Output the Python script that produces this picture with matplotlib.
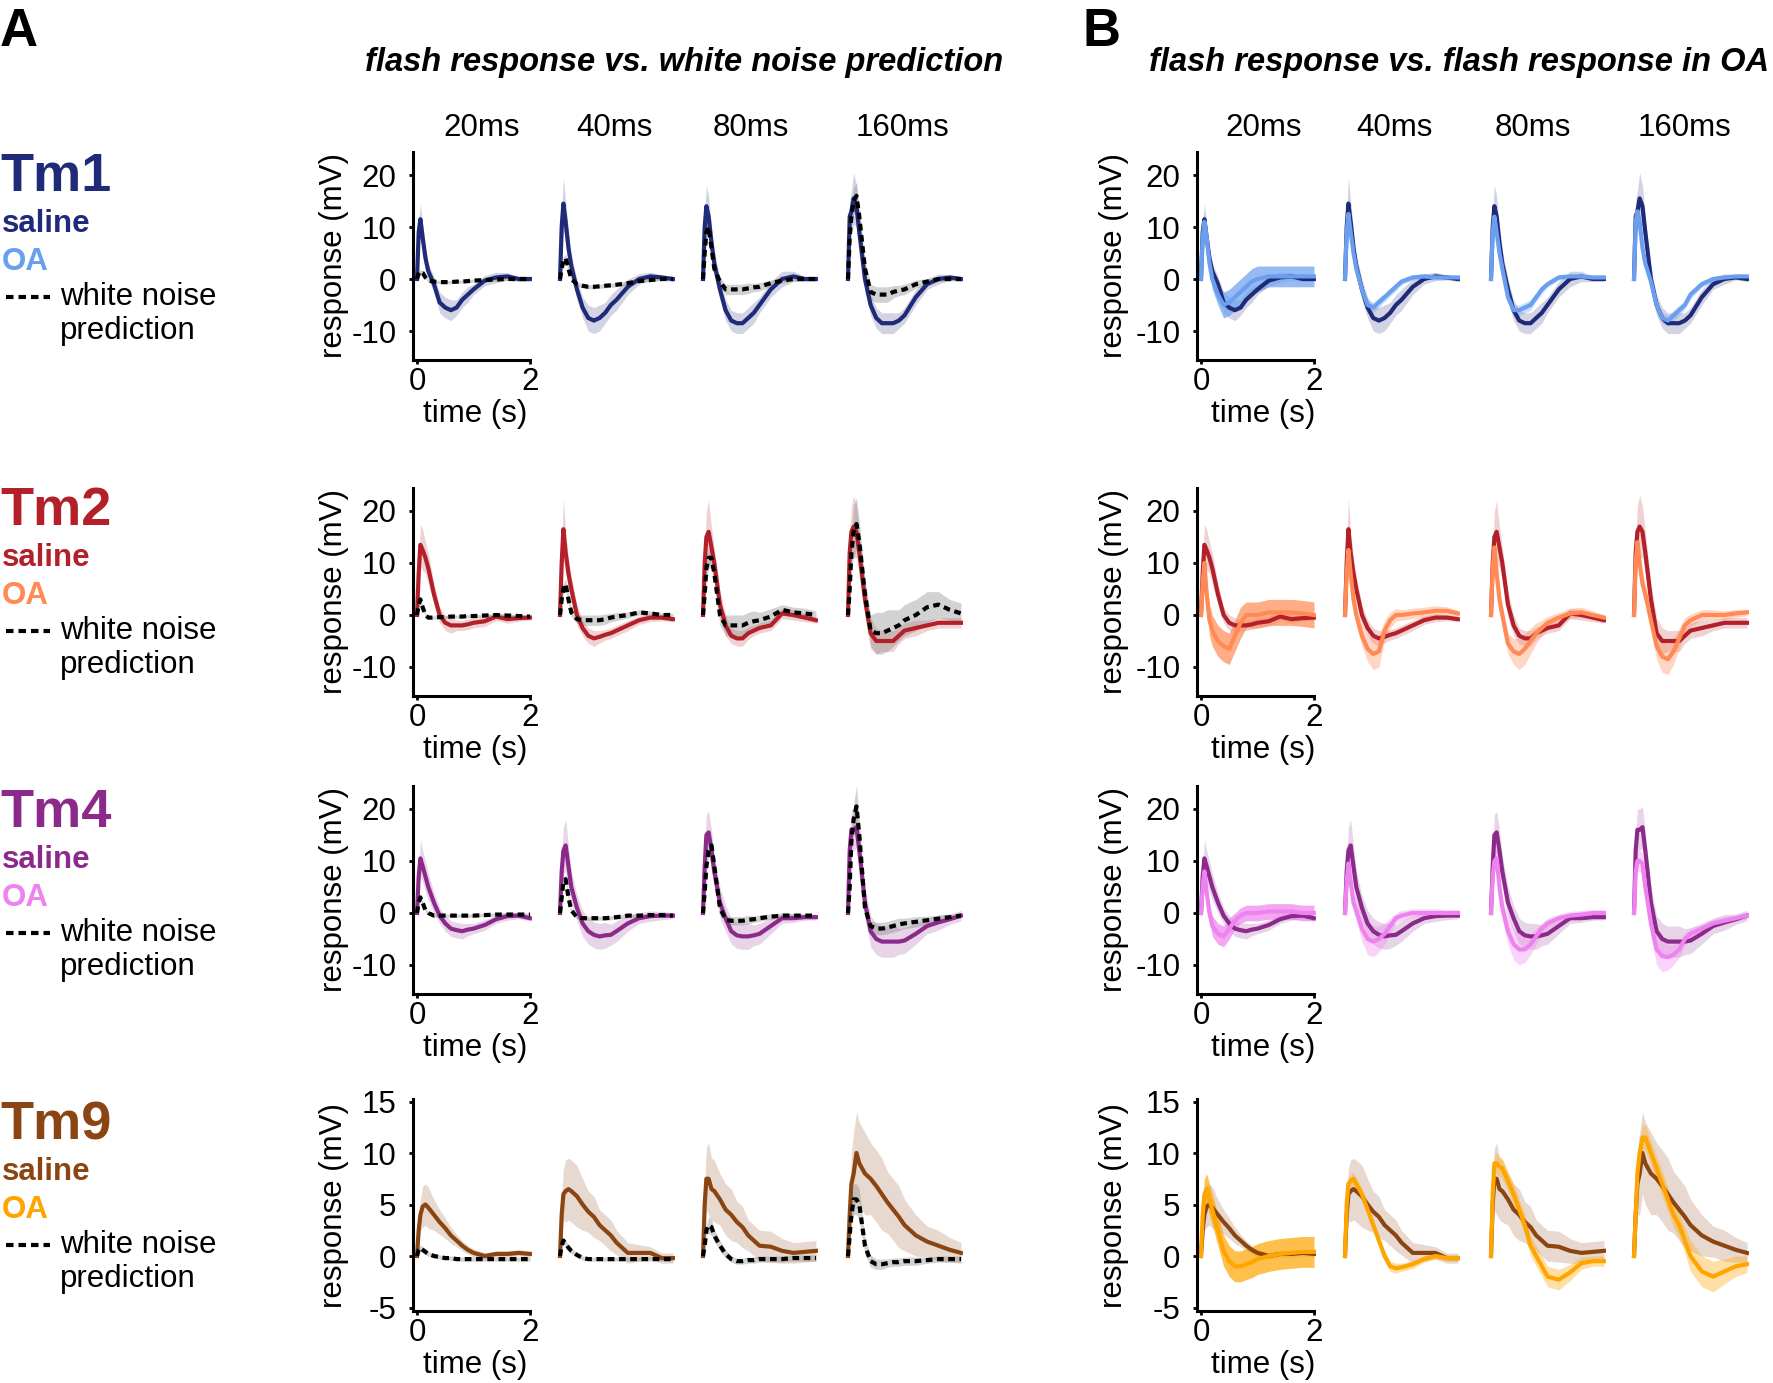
import matplotlib.pyplot as plt
from matplotlib.lines import Line2D

plt.rcParams['font.family'] = ['Liberation Sans', 'DejaVu Sans']
plt.rcParams['axes.unicode_minus'] = False

# sample times (s) shared by all traces
t_pts = [0, 0.03, 0.06, 0.1, 0.15, 0.2, 0.3, 0.4, 0.5, 0.6, 0.7, 0.8, 0.9, 1.0, 1.2, 1.4, 1.6, 1.8, 2.0]
durations = ['20ms', '40ms', '80ms', '160ms']
cells = ['Tm1', 'Tm2', 'Tm4', 'Tm9']

# ---- Tm1 ----
tm1_saline = [
    [0, 9, 11.5, 8, 4, 1.5, -1, -4.5, -5.5, -6, -5.5, -4, -3, -2, -0.3, 0.3, 0.5, 0, 0],
    [0, 10, 14.5, 11, 6, 2.5, -2, -5.5, -7.5, -8, -7.5, -6.5, -5, -4, -1.5, 0, 0.5, 0.3, 0],
    [0, 10, 14, 12, 7, 3, -2, -6, -8, -8.5, -8.5, -7.5, -6.5, -5, -2, 0, 0.5, 0, 0],
    [0, 12, 13, 15.5, 14, 9, 0, -5, -7.5, -8.5, -8.5, -8.5, -8, -7, -3.5, -1, 0, 0.3, 0],
]
tm1_saline_sem = [
    [0, 2, 3, 2.5, 2, 1.5, 1.5, 2, 2, 2, 1.5, 1.5, 1.5, 1, 1, 1, 0.7, 0.5, 0.5],
    [0, 3, 5, 4, 3, 2, 2, 2, 2.5, 2.5, 2.5, 2, 2, 2, 1.5, 1, 0.8, 0.5, 0.5],
    [0, 3, 4, 4, 3, 2.5, 2, 2, 2, 2, 2, 2, 2, 1.5, 1.5, 1.5, 1, 0.5, 0.5],
    [0, 3, 4, 5, 4, 3, 2, 2, 2, 2, 2, 2, 1.5, 1.5, 1.5, 1, 1, 0.5, 0.5],
]
tm1_pred = [
    [0, 1, 1.5, 1.2, 0.3, -0.3, -0.5, -0.6, -0.6, -0.6, -0.5, -0.5, -0.4, -0.3, -0.2, -0.1, 0, 0, 0],
    [0, 2, 3.5, 4, 2, 0, -1, -1.3, -1.5, -1.5, -1.4, -1.3, -1.2, -1.1, -0.8, -0.4, -0.2, 0, 0],
    [0, 5, 9, 10, 6, 2, -0.5, -2, -2, -2, -2, -1.8, -1.6, -1.5, -0.8, -0.3, 0, 0, 0],
    [0, 8, 12, 15, 16, 12, 2, -2.5, -3, -3, -3, -2.5, -2.2, -2, -1, -0.5, 0, 0, 0],
]
tm1_pred_sem = [
    [0, 0.3, 0.4, 0.4, 0.3, 0.3, 0.3, 0.3, 0.3, 0.3, 0.3, 0.3, 0.3, 0.3, 0.3, 0.3, 0.3, 0.3, 0.3],
    [0, 0.5, 0.8, 0.8, 0.5, 0.4, 0.4, 0.4, 0.4, 0.4, 0.4, 0.4, 0.4, 0.4, 0.4, 0.3, 0.3, 0.3, 0.3],
    [0, 1, 1.5, 1.5, 1, 0.8, 0.8, 1, 1, 1, 1, 1, 0.8, 0.8, 0.6, 0.5, 0.4, 0.3, 0.3],
    [0, 1.5, 2, 2.5, 2.5, 2, 1.5, 1.5, 1.5, 1.5, 1.5, 1.2, 1, 1, 0.8, 0.6, 0.5, 0.4, 0.3],
]
tm1_oa = [
    [0, 8, 11, 8, 3, 0, -3, -5, -4.5, -3.5, -2.5, -1.5, -0.5, 0, 0.5, 0.5, 0.5, 0.5, 0.5],
    [0, 9, 12.5, 9, 5, 2, -2, -5, -5.5, -4.5, -3.5, -2.5, -1.5, -0.5, 0.3, 0.5, 0.3, 0.3, 0.3],
    [0, 9, 12, 9, 5, 2, -3.5, -6, -6, -5.5, -5, -3.5, -2, -1, 0.3, 0.5, 0.5, 0.3, 0.3],
    [0, 11, 13, 11, 6, 3, -0.5, -5, -7.5, -8, -7, -6, -5, -3, -1, 0, 0.3, 0.5, 0.5],
]
tm1_oa_sem = [
    [0, 1, 1.5, 1.5, 1.5, 2, 2, 2.5, 2.5, 2.5, 2.5, 2.5, 2.5, 2.5, 2, 2, 2, 2, 2],
    [0, 1, 1.5, 1.2, 1, 1, 1, 1, 1, 1, 0.8, 0.8, 0.8, 0.6, 0.5, 0.5, 0.5, 0.4, 0.4],
    [0, 1, 1.5, 1.2, 1, 1, 1, 1, 1, 1, 1, 0.8, 0.8, 0.6, 0.5, 0.5, 0.5, 0.4, 0.4],
    [0, 1.5, 2, 1.5, 1, 1, 1, 1, 1, 1, 1, 1, 0.8, 0.8, 0.6, 0.5, 0.5, 0.4, 0.4],
]

# ---- Tm2 ----
tm2_saline = [
    [0, 8, 13.5, 12.5, 11, 9, 4, 0, -1.5, -2, -2, -2, -1.8, -1.5, -1.2, -0.3, -0.8, -0.6, -0.5],
    [0, 10, 16.5, 12, 8, 5, 0, -2.5, -4, -4.5, -4.2, -3.8, -3.5, -3, -2, -1, -0.5, -0.5, -0.8],
    [0, 10, 15, 16, 13, 10, 2, -2, -4, -4.5, -4.5, -3.5, -3, -2.5, -2, 0.3, 0, -0.5, -1],
    [0, 12, 16, 17, 16, 12, 3, -3.5, -5, -5, -5, -5, -4, -3, -2.5, -2, -1.5, -1.5, -1.5],
]
tm2_saline_sem = [
    [0, 2, 4, 4, 3, 3, 2, 1.5, 1.5, 1.5, 1, 1, 1, 1, 1, 0.8, 0.8, 0.6, 0.5],
    [0, 3, 6, 4, 3, 2.5, 2, 1.5, 1.5, 1.5, 1.2, 1, 1, 1, 1, 0.8, 0.8, 0.6, 0.5],
    [0, 3, 5, 6, 4, 3, 2.5, 2, 1.5, 1.5, 1.5, 1.2, 1, 1, 1, 1, 1, 0.8, 0.6],
    [0, 3, 5, 6, 5, 4, 3, 3, 2.5, 2, 2, 2, 1.5, 1.5, 1.5, 1, 1, 1, 1],
]
tm2_pred = [
    [0, 2, 3, 1.5, 0, -0.5, -0.5, -0.4, -0.4, -0.3, -0.3, -0.3, -0.2, -0.2, -0.1, 0, -0.1, -0.2, -0.3],
    [0, 3, 5, 6, 3, 0.5, -0.8, -1, -1, -1, -1, -0.8, -0.5, -0.3, 0, 0.5, 0.3, 0, 0],
    [0, 4, 9, 11, 11, 8, 0, -2, -2, -2, -2, -1.5, -1.2, -1, -0.3, 1, 0.5, 0.3, 0],
    [0, 5, 12, 16, 17.5, 14, 4, -3, -3.5, -3.5, -3, -2.5, -2, -1, 0, 1.5, 2, 1, 0.3],
]
tm2_pred_sem = [
    [0, 0.3, 0.5, 0.5, 0.3, 0.3, 0.3, 0.3, 0.3, 0.3, 0.3, 0.3, 0.3, 0.3, 0.3, 0.3, 0.3, 0.3, 0.3],
    [0, 0.5, 1, 1, 1, 0.8, 0.8, 1, 1, 1, 1, 1, 0.8, 0.8, 0.6, 0.5, 0.5, 0.4, 0.3],
    [0, 1, 2, 2, 2, 2, 2, 2, 2, 2, 2, 2, 2, 1.5, 1.5, 1, 1, 1, 0.8],
    [0, 1, 3, 5, 5, 4, 3, 3, 4, 4, 4, 3.5, 3, 3, 3, 3, 2.5, 2, 2],
]
tm2_oa = [
    [0, 6, 10, 4, -1, -3, -5, -6, -6.5, -4, -1.5, 0, 0, 0, 0.5, 0.5, 0.5, 0.3, 0],
    [0, 8, 12.5, 8, 3, 0, -4, -6.5, -7.5, -7, -3, -1, 0, 0, 0.3, 0.5, 0.8, 0.8, 0.3],
    [0, 9, 13, 8, 3, 0, -5.5, -7, -7.5, -6.5, -5, -3.5, -2.5, -1.5, -0.5, 0.3, 0.5, 0, -0.5],
    [0, 10, 14, 10, 6, 4, -1, -6, -8, -8.5, -7, -4.5, -2, -1, 0, 0, 0, 0.3, 0.5],
]
tm2_oa_sem = [
    [0, 1, 2, 2.5, 3, 3, 3, 3, 3, 3, 3, 2.5, 2.5, 2.5, 2.5, 2.5, 2.5, 2.5, 2.5],
    [0, 2, 3, 2.5, 2, 2, 2, 2.5, 3, 3, 2, 1.5, 1.2, 1, 1, 1, 1, 0.8, 0.6],
    [0, 2, 3, 2.5, 2, 2, 2, 2.5, 3, 3, 2.5, 2, 1.5, 1.2, 1, 1, 1, 0.8, 0.6],
    [0, 2, 3, 2.5, 2, 2, 2, 2.5, 3, 3, 2.5, 2, 1.5, 1.2, 1, 1, 0.8, 0.8, 0.6],
]

# ---- Tm4 ----
tm4_saline = [
    [0, 7, 10.5, 9, 7, 5, 2, -0.5, -2, -3, -3.3, -3.5, -3.2, -3, -2.3, -1.2, -0.6, -0.5, -1],
    [0, 8, 12, 13, 9, 5, 1, -2, -3.5, -4.2, -4.5, -4.3, -4.2, -3.5, -2, -1, -0.6, -0.5, -0.5],
    [0, 9, 15, 15.5, 12, 8, 2, -1, -3.5, -4.3, -4.5, -4.5, -4.3, -4, -2.5, -1, -1, -0.8, -0.8],
    [0, 12, 16, 16, 16.5, 12, 2, -3.5, -5, -5.5, -5.5, -5.5, -5.5, -5.3, -4, -2.5, -1.8, -1.2, -0.5],
]
tm4_saline_sem = [
    [0, 2, 3.5, 3, 3, 2.5, 2, 1.5, 1.5, 1.5, 1.5, 1.5, 1.2, 1, 1, 0.8, 0.8, 0.6, 0.5],
    [0, 3, 4.5, 5, 4, 3, 2.5, 2.5, 2.5, 2.5, 2.5, 2.5, 2, 2, 1.5, 1, 1, 0.8, 0.6],
    [0, 3, 4, 4, 4, 3, 3, 2.5, 2.5, 2.5, 2.5, 2.5, 2, 2, 1.5, 1, 0.8, 0.6, 0.5],
    [0, 3, 4, 4, 4, 3.5, 3, 3, 3, 3, 3, 3, 2.5, 2.5, 2, 1.5, 1.5, 1, 1],
]
tm4_pred = [
    [0, 2, 3, 2, 0.5, 0, -0.5, -0.5, -0.5, -0.5, -0.5, -0.5, -0.5, -0.5, -0.4, -0.3, -0.3, -0.3, -0.3],
    [0, 3, 6, 6.5, 3, 0.5, -0.8, -1, -1, -1, -1, -1, -0.9, -0.8, -0.5, -0.5, -0.4, -0.4, -0.5],
    [0, 4, 9, 12, 13, 9, 1, -1.3, -1.5, -1.5, -1.5, -1.3, -1.2, -1, -0.7, -0.5, -0.5, -0.5, -0.5],
    [0, 5, 14, 18, 20.5, 15, 1, -2.5, -3, -3, -2.8, -2.5, -2.2, -2, -1.7, -1.4, -1.1, -0.8, -0.5],
]
tm4_pred_sem = [
    [0, 0.3, 0.4, 0.4, 0.3, 0.3, 0.3, 0.3, 0.3, 0.3, 0.3, 0.3, 0.3, 0.3, 0.3, 0.3, 0.3, 0.3, 0.3],
    [0, 0.5, 0.8, 0.8, 0.5, 0.4, 0.4, 0.4, 0.4, 0.4, 0.4, 0.4, 0.4, 0.4, 0.4, 0.3, 0.3, 0.3, 0.3],
    [0, 0.8, 1, 1.2, 1.2, 1, 0.8, 0.8, 0.8, 0.8, 0.8, 0.8, 0.6, 0.6, 0.5, 0.5, 0.4, 0.3, 0.3],
    [0, 1, 2, 3, 4, 3, 1, 1, 1.2, 1.2, 1.2, 1.2, 1.2, 1, 1, 0.8, 0.6, 0.5, 0.5],
]
tm4_oa = [
    [0, 5, 8, 4, 0, -2.5, -4, -4.5, -3, -1.5, -0.5, 0, 0, 0, 0.3, 0.3, 0.3, 0, 0],
    [0, 6, 9.5, 6, 2, 0.5, -3, -5, -5.5, -5, -4, -2.5, -1, -0.5, 0, 0, 0, 0, 0],
    [0, 7, 10, 10.5, 5, 1, -3.5, -6, -7, -7, -6, -4.5, -3, -2, -1, -0.5, -0.3, 0, 0],
    [0, 8, 10, 10, 9.5, 5, -2, -7, -8.3, -8.5, -8, -7, -5, -4, -3, -2, -1.5, -1, -0.5],
]
tm4_oa_sem = [
    [0, 1, 1.5, 1.5, 1.5, 2, 2, 2, 2, 1.5, 1.5, 1.5, 1.5, 1.5, 1.5, 1.5, 1.5, 1.5, 1.5],
    [0, 1.5, 2, 2, 2, 2, 2.5, 3, 3, 2.5, 2, 1.5, 1, 1, 0.8, 0.8, 0.8, 0.6, 0.6],
    [0, 1.5, 2, 2, 2, 2, 2.5, 3, 3, 2.5, 2, 1.5, 1.2, 1, 0.8, 0.8, 0.8, 0.6, 0.6],
    [0, 1.5, 2, 2, 2, 2, 2.5, 3, 3, 2.5, 2, 1.5, 1.2, 1, 0.8, 0.8, 0.8, 0.6, 0.6],
]

# ---- Tm9 ----
tm9_saline = [
    [0, 2.5, 4, 4.8, 5, 4.7, 4, 3.3, 2.7, 2, 1.5, 1, 0.6, 0.3, 0, 0.2, 0.2, 0.3, 0.2],
    [0, 4, 6, 6.3, 6.5, 6.3, 5.8, 5, 4.3, 3.8, 3, 2.5, 2, 1.3, 0.3, 0.3, 0.3, -0.2, -0.2],
    [0, 5, 7.5, 7.5, 6.5, 6.3, 5.5, 4.5, 4, 3.3, 2.8, 2, 1.5, 1, 0.9, 0.5, 0.3, 0.4, 0.5],
    [0, 4, 7, 8, 10, 9, 8, 7.5, 6.8, 6, 5.2, 4.5, 3.8, 3, 2, 1.4, 1, 0.6, 0.3],
]
tm9_saline_sem = [
    [0, 1, 1.5, 2, 2, 2, 1.5, 1.2, 1, 0.8, 0.6, 0.5, 0.4, 0.4, 0.3, 0.3, 0.3, 0.3, 0.3],
    [0, 2, 2.5, 3, 3, 3, 3, 2.5, 2, 2, 1.5, 1.5, 1.5, 1.2, 1, 0.8, 0.6, 0.5, 0.5],
    [0, 2, 3, 3.5, 3, 3, 2.5, 2.5, 2.5, 2, 2, 1.5, 1.5, 1.5, 1.5, 1.2, 1, 1, 1],
    [0, 2, 3, 4, 4, 4, 4, 3.5, 3.5, 3.5, 3, 3, 3, 2.5, 2, 1.5, 1.5, 1.2, 1],
]
tm9_pred = [
    [0, 0.6, 0.8, 0.6, 0.4, 0.2, 0, -0.1, -0.2, -0.2, -0.3, -0.3, -0.3, -0.3, -0.3, -0.3, -0.3, -0.3, -0.3],
    [0, 1, 1.5, 1.2, 0.8, 0.5, 0.1, -0.2, -0.3, -0.3, -0.3, -0.3, -0.3, -0.3, -0.3, -0.3, -0.3, -0.3, -0.3],
    [0, 1, 2.5, 3, 2.8, 2, 1, 0.2, -0.3, -0.5, -0.5, -0.4, -0.4, -0.3, -0.3, -0.3, -0.2, -0.2, -0.2],
    [0, 2, 4, 5.5, 5.5, 5, 1, -0.5, -0.8, -0.8, -0.7, -0.6, -0.6, -0.5, -0.5, -0.4, -0.3, -0.3, -0.3],
]
tm9_pred_sem = [
    [0, 0.2, 0.3, 0.3, 0.3, 0.2, 0.2, 0.2, 0.2, 0.2, 0.2, 0.2, 0.2, 0.2, 0.2, 0.2, 0.2, 0.2, 0.2],
    [0, 0.2, 0.3, 0.3, 0.3, 0.3, 0.2, 0.2, 0.2, 0.2, 0.2, 0.2, 0.2, 0.2, 0.2, 0.2, 0.2, 0.2, 0.2],
    [0, 0.3, 0.5, 0.8, 0.8, 0.6, 0.5, 0.4, 0.3, 0.3, 0.3, 0.3, 0.3, 0.3, 0.3, 0.3, 0.3, 0.3, 0.3],
    [0, 0.5, 1, 1.5, 1.5, 1.5, 0.8, 0.6, 0.5, 0.5, 0.4, 0.4, 0.4, 0.4, 0.4, 0.3, 0.3, 0.3, 0.3],
]
tm9_oa = [
    [0, 4, 6, 6.5, 5.5, 4.5, 2.5, 0.5, -0.5, -1, -1, -0.8, -0.6, -0.3, 0, 0.2, 0.3, 0.4, 0.4],
    [0, 5, 7, 7.3, 7.5, 7, 6, 4.5, 3, 1.5, 0, -1, -1.2, -1.1, -0.8, -0.3, 0, -0.2, -0.2],
    [0, 6, 9, 9, 8.7, 8.5, 7.3, 6, 4.5, 3, 1, 0, -1, -2, -2.3, -1.6, -0.7, -0.5, -0.5],
    [0, 4, 8, 10, 11.5, 11.5, 10, 8.5, 7, 5.5, 4, 3, 1.5, 0, -1.5, -2, -1.5, -1, -0.8],
]
tm9_oa_sem = [
    [0, 1.5, 1.5, 1.5, 1.5, 1.5, 1.5, 1.5, 1.5, 1.5, 1.5, 1.5, 1.5, 1.5, 1.5, 1.5, 1.5, 1.5, 1.5],
    [0, 0.5, 0.6, 0.6, 0.6, 0.6, 0.6, 0.6, 0.6, 0.5, 0.5, 0.5, 0.5, 0.4, 0.4, 0.3, 0.3, 0.3, 0.3],
    [0, 0.8, 1, 1, 1, 1, 1, 1, 1, 1, 1, 1, 1, 1, 1, 0.8, 0.6, 0.5, 0.5],
    [0, 0.8, 1, 1.2, 1.2, 1.2, 1.2, 1.2, 1.2, 1.2, 1.2, 1.2, 1.2, 1.5, 1.5, 1.5, 1.2, 1, 0.8],
]

saline_colors = ['#1f2a78', '#b3202a', '#8c2a8c', '#8b4513']
oa_colors = ['#6a9ff0', '#ff8a55', '#ee82ee', '#ffa500']
yticks_rows = [[-10, 0, 10, 20], [-10, 0, 10, 20], [-10, 0, 10, 20], [-5, 0, 5, 10, 15]]

rows = [
    (tm1_saline, tm1_saline_sem, tm1_oa, tm1_oa_sem, tm1_pred, tm1_pred_sem),
    (tm2_saline, tm2_saline_sem, tm2_oa, tm2_oa_sem, tm2_pred, tm2_pred_sem),
    (tm4_saline, tm4_saline_sem, tm4_oa, tm4_oa_sem, tm4_pred, tm4_pred_sem),
    (tm9_saline, tm9_saline_sem, tm9_oa, tm9_oa_sem, tm9_pred, tm9_pred_sem),
]

W, H = 1773, 1383
fig = plt.figure(figsize=(W / 100, H / 100), dpi=100)

# layout in pixels
px_per_s = 56.5
a_x0 = [417, 560, 703, 848]
b_x0 = [1201, 1345, 1491, 1634]
zero_px = [279, 615, 913, 1256]
px_per_mv = [5.2, 5.2, 5.2, 10.3]
ylims = [(-15.5, 24.5), (-15.5, 24.5), (-15.5, 24.5), (-5.3, 15.2)]
XL = (-0.07, 2.03)
FS = 22.5


def add_panel(x0, r):
    lo, hi = ylims[r]
    left = x0 + XL[0] * px_per_s
    width = (XL[1] - XL[0]) * px_per_s
    top = zero_px[r] - hi * px_per_mv[r]
    height = (hi - lo) * px_per_mv[r]
    ax = fig.add_axes([left / W, 1 - (top + height) / H, width / W, height / H])
    ax.set_xlim(*XL)
    ax.set_ylim(lo, hi)
    return ax


def style(ax, r, first):
    for s in ['top', 'right']:
        ax.spines[s].set_visible(False)
    if not first:
        ax.axis('off')
        return
    ax.spines['left'].set_linewidth(2.2)
    ax.spines['bottom'].set_linewidth(2.2)
    ax.spines['bottom'].set_bounds(XL[0], 2)
    ax.set_xticks([0, 2])
    ax.set_yticks(yticks_rows[r])
    ax.tick_params(axis='y', length=3, width=2, labelsize=FS, pad=9)
    ax.tick_params(axis='x', length=3, width=2, labelsize=FS, pad=2)


def band(ax, y, e, color, alpha):
    lo = [a - b for a, b in zip(y, e)]
    hi = [a + b for a, b in zip(y, e)]
    ax.fill_between(t_pts, lo, hi, color=color, alpha=alpha, lw=0)


for r, (sal, sal_sem, oa, oa_sem, pred, pred_sem) in enumerate(rows):
    sc = saline_colors[r]
    oc = oa_colors[r]
    for c in range(4):
        # panel A: saline vs white noise prediction
        ax = add_panel(a_x0[c], r)
        band(ax, sal[c], sal_sem[c], sc, 0.2)
        band(ax, pred[c], pred_sem[c], '#808080', 0.35)
        ax.plot(t_pts, sal[c], color=sc, lw=3, solid_joinstyle='round')
        ax.plot(t_pts, pred[c], color='black', lw=3, dashes=(1.6, 1.1))
        style(ax, r, c == 0)

        # panel B: saline vs OA
        ax = add_panel(b_x0[c], r)
        band(ax, sal[c], sal_sem[c], sc, 0.2)
        band(ax, oa[c], oa_sem[c], oc, 0.7 if c == 0 else 0.35)
        ax.plot(t_pts, sal[c], color=sc, lw=3, solid_joinstyle='round')
        ax.plot(t_pts, oa[c], color=oc, lw=3, solid_joinstyle='round')
        style(ax, r, c == 0)

    # axis labels for first column of each panel
    lo, hi = ylims[r]
    ymid = zero_px[r] - (hi + lo) / 2 * px_per_mv[r]
    for xl in [334, 1114]:
        fig.text(xl / W, 1 - ymid / H, 'response (mV)', rotation=90,
                 ha='center', va='center', fontsize=FS)
    bottom_px = zero_px[r] - lo * px_per_mv[r]
    for xc in [475, 1263]:
        fig.text(xc / W, 1 - (bottom_px + 54) / H, 'time (s)',
                 ha='center', va='center', fontsize=FS)

# row labels on the left
label_top = [177, 511, 813, 1125]
for r, name in enumerate(cells):
    y0 = label_top[r]
    fig.text(0 / W, 1 - y0 / H, name, color=saline_colors[r], fontsize=39,
             fontweight='bold', ha='left', va='center')
    fig.text(2 / W, 1 - (y0 + 47) / H, 'saline', color=saline_colors[r], fontsize=22.5,
             fontweight='bold', ha='left', va='center')
    fig.text(2 / W, 1 - (y0 + 85) / H, 'OA', color=oa_colors[r], fontsize=22.5,
             fontweight='bold', ha='left', va='center')
    fig.text(60 / W, 1 - (y0 + 120) / H, 'white noise', fontsize=22.5,
             ha='left', va='center')
    fig.text(60 / W, 1 - (y0 + 154) / H, 'prediction', fontsize=22.5,
             ha='left', va='center')
    fig.add_artist(Line2D([6 / W, 50 / W], [1 - (y0 + 120) / H] * 2, color='black',
                          lw=3, dashes=(1.8, 1.2)))

# column headers
a_hdr = [482, 614, 751, 902]
b_hdr = [1264, 1394, 1533, 1685]
for i, d in enumerate(durations):
    fig.text(a_hdr[i] / W, 1 - 128 / H, d, ha='center', va='center', fontsize=FS)
    fig.text(b_hdr[i] / W, 1 - 128 / H, d, ha='center', va='center', fontsize=FS)

# panel titles and letters
fig.text(684 / W, 1 - 63 / H, 'flash response vs. white noise prediction',
         ha='center', va='center', fontsize=23.5, fontweight='bold', fontstyle='italic')
fig.text(1459 / W, 1 - 63 / H, 'flash response vs. flash response in OA',
         ha='center', va='center', fontsize=23.5, fontweight='bold', fontstyle='italic')
fig.text(0 / W, 1 - 32 / H, 'A', ha='left', va='center', fontsize=38, fontweight='bold')
fig.text(1082 / W, 1 - 32 / H, 'B', ha='left', va='center', fontsize=38, fontweight='bold')

fig.savefig('out.png', dpi=100)
